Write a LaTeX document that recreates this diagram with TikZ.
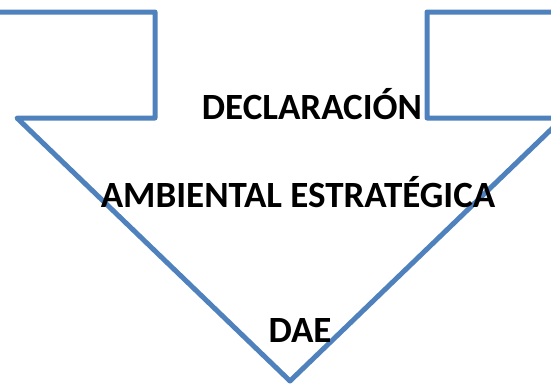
\documentclass[tikz,border=0pt]{standalone}
\usepackage{fontspec}
\setmainfont{Carlito}
\usepackage{tikz}
\usetikzlibrary{positioning}
\definecolor{arrowblue}{HTML}{4F81BD}
\tikzstyle{outline}=[draw=arrowblue, line width=5pt, line join=round]
\tikzstyle{caption}=[font=\fontsize{37}{44}\selectfont\bfseries, inner sep=0pt, anchor=base]

\begin{document}
\begin{tikzpicture}[x=1pt, y=-1pt]
				\useasboundingbox (0,0) rectangle (551,386);
				\coordinate (tl) at (-5,12);
				\coordinate (tr) at (560,12);
				\coordinate (tip) at (290,381);
				\draw[outline] (tl) -- (155,12) -- (155,118) -- (17,118) -- (tip)
								-- (563,118) -- (427,118) -- (427,12) -- (tr);

				\node[caption] (decl) at (312,119) {DECLARACIÓN};
				\node[caption] (amb) at (298,207) {AMBIENTAL ESTRATÉGICA};
				\node[caption] (dae) at (300,342) {DAE};
			\end{tikzpicture}
\end{document}
